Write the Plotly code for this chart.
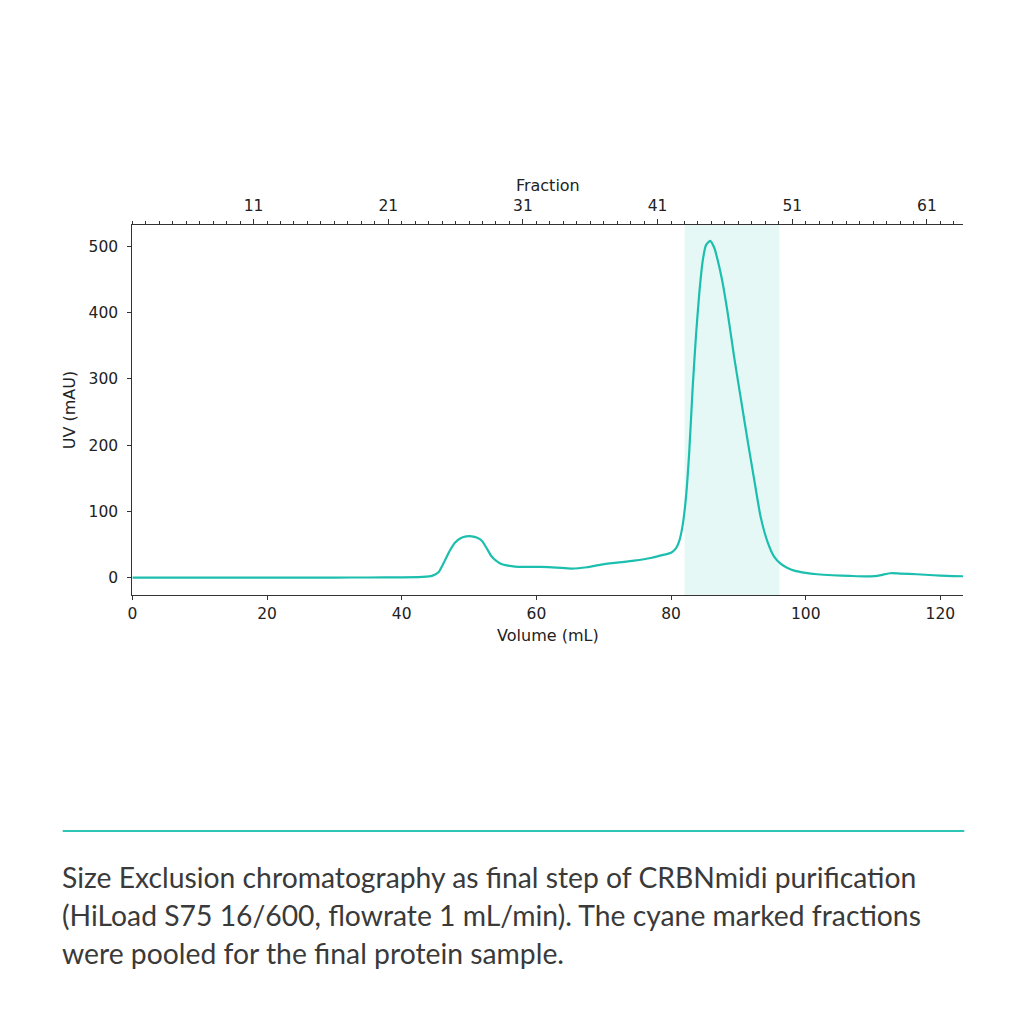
import plotly.graph_objects as go

# Chromatogram data (volume in mL, UV in mAU)
volume = [0, 5, 10, 15, 20, 25, 30, 35, 40, 43, 44.5, 45.5, 46.4, 47.2, 47.9, 48.8, 49.6, 50.4, 51.2, 51.9,
          52.6, 53.3, 54.0, 54.8, 55.8, 56.8, 58.5, 60.7, 63.0, 65.2, 67.5, 69.6, 72.0, 74.5, 77.0, 79.0,
          80.0, 80.7, 81.2, 81.7, 82.2, 82.7, 83.2, 83.7, 84.2, 84.7, 85.2, 85.8, 86.4, 87.0, 87.6, 88.4,
          89.4, 90.4, 91.4, 92.4, 93.3, 94.3, 95.3, 96.3, 97.3, 98.3, 100.0, 101.7, 104.0, 106.5, 109.1,
          110.6, 111.5, 112.6, 114.0, 116.5, 119.0, 121.0, 123.4]
uv = [0.5, 0.5, 0.5, 0.5, 0.5, 0.5, 0.5, 0.6, 0.8, 1.5, 3, 9, 26, 42, 53, 60, 62.5, 62.6, 60.5, 56,
      45, 33, 26, 21, 18.5, 17, 16.5, 16.5, 15.5, 14, 16, 20, 23, 26, 30, 35,
      38, 44, 55, 78, 120, 190, 285, 365, 430, 478, 502, 508, 498, 476, 448, 400,
      331, 268, 205, 145, 92, 55, 32, 21, 15, 11, 7.5, 5.5, 4, 3, 2.2,
      3, 5, 7, 6.5, 5.5, 4, 3, 2.5]

# Pooled fraction region (mL)
pool_start = 82.0
pool_end = 96.1

# Top axis: fraction labels
fraction_ticks = [11, 21, 31, 41, 51, 61]
x_range = [0, 123.4]
y_range = [-25.8, 532]

caption_lines = [
    "Size Exclusion chromatography as final step of CRBNmidi purification",
    "(HiLoad S75 16/600, flowrate 1 mL/min). The cyane marked fractions",
    "were pooled for the final protein sample.",
]

line_color = "#1cbfae"
shade_color = "rgba(28,191,174,0.11)"

fig = go.Figure()

fig.add_trace(go.Scatter(
    x=volume, y=uv, mode="lines",
    line=dict(color=line_color, width=2.2, shape="spline", smoothing=0.6),
    hoverinfo="skip", showlegend=False,
))

# dummy trace for fraction axis
fig.add_trace(go.Scatter(
    x=[(x_range[0] + 4) / 2, (x_range[1] + 4) / 2], y=[None, None],
    xaxis="x2", yaxis="y", mode="lines", showlegend=False, hoverinfo="skip",
))

fig.add_vrect(x0=pool_start, x1=pool_end, fillcolor=shade_color, line_width=0, layer="below")

tick_font = dict(family="DejaVu Sans", size=15.5, color="#222")
title_font = dict(family="DejaVu Sans", size=16, color="#222")

x_dom = [128 / 1024, 963 / 1024]
y_dom = [1 - 595 / 1024, 1 - 225 / 1024]

fig.update_layout(
    width=1024, height=1024,
    margin=dict(l=0, r=0, t=0, b=0),
    paper_bgcolor="white", plot_bgcolor="white",
    xaxis=dict(
        domain=x_dom, range=x_range, showgrid=False, zeroline=False,
        showline=True, linecolor="#333", linewidth=1.3,
        ticks="outside", ticklen=4, tickcolor="#333", tickwidth=1,
        tickvals=[0, 20, 40, 60, 80, 100, 120],
        tickfont=tick_font, ticklabelstandoff=0,
        title=dict(text="Volume (mL)", font=title_font, standoff=8),
    ),
    xaxis2=dict(
        overlaying="x", side="top", anchor="y",
        range=[(x_range[0] + 4) / 2, (x_range[1] + 4) / 2],
        showgrid=False, zeroline=False,
        showline=True, linecolor="#333", linewidth=1.3,
        ticks="outside", ticklen=5, tickcolor="#333", tickwidth=1,
        tickvals=fraction_ticks, ticktext=[str(t) for t in fraction_ticks],
        minor=dict(ticks="outside", ticklen=2.5, tick0=1, dtick=1, tickcolor="#333", tickwidth=1, showgrid=False),
        tickfont=tick_font, ticklabelstandoff=2,
        title=dict(text="Fraction", font=title_font, standoff=1),
    ),
    yaxis=dict(
        domain=y_dom, range=y_range, showgrid=False, zeroline=False,
        showline=True, linecolor="#333", linewidth=1.3,
        ticks="outside", ticklen=4, tickcolor="#333", tickwidth=1,
        tickvals=[0, 100, 200, 300, 400, 500],
        tickfont=tick_font, ticklabelstandoff=6,
        title=dict(text="UV (mAU)", font=title_font, standoff=8),
    ),
)

# separator line and caption
fig.add_shape(type="line", xref="paper", yref="paper",
              x0=58 / 1024, x1=964 / 1024, y0=1 - 831 / 1024, y1=1 - 831 / 1024,
              line=dict(color="#2ec4b6", width=2))

for i, line in enumerate(caption_lines):
    fig.add_annotation(
        xref="paper", yref="paper", x=55 / 1024, y=1 - (877 + 38 * i) / 1024,
        xanchor="left", yanchor="middle", align="left", showarrow=False,
        text=line, font=dict(family="Lato", size=28.3, color="#3a3a3a"),
    )

fig.write_html("out.html")
